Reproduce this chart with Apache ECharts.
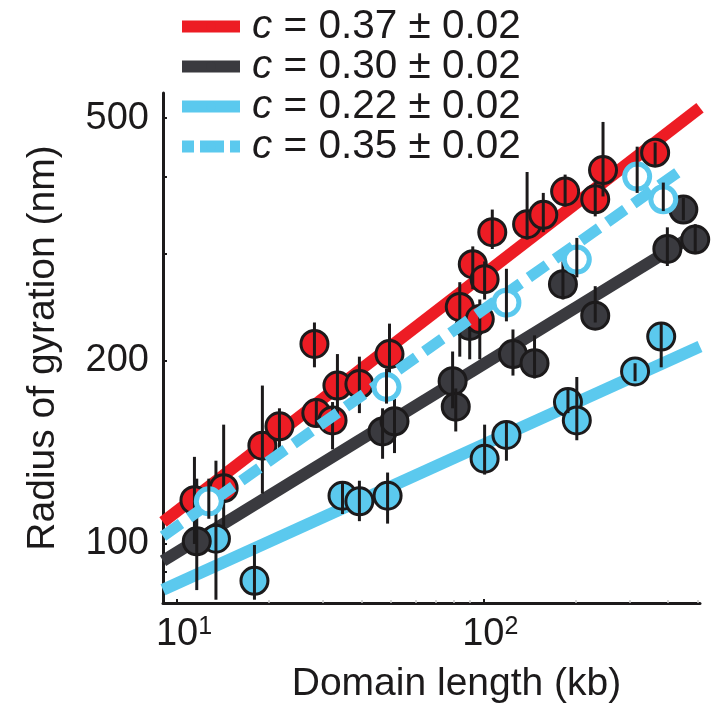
<!DOCTYPE html>
<html>
<head>
<meta charset="utf-8">
<script src="https://cdn.jsdelivr.net/npm/echarts@6/dist/echarts.min.js"></script>
<style>
  html, body { margin: 0; padding: 0; background: #fff; }
  #chart { width: 713px; height: 709px; }
</style>
</head>
<body>
<div id="chart"></div>
<script>
// Each point: [domain length (kb), radius of gyration (nm), error low, error high]
const redPoints = [
  [11.4, 118, 100, 139], [14.2, 123.5, 106, 157], [19.0, 145, 121, 182], [21.6, 156, 140, 167],
  [28.1, 213, 195, 231], [28.5, 164, 156, 173], [32.2, 159.5, 143, 171], [33.4, 182, 161, 205],
  [39.4, 183, 164, 203], [49.4, 205, 187, 230], [83.8, 245, 203, 269], [92.4, 288, 262, 308],
  [97.4, 234, 201, 252], [101, 272, 252, 291], [107, 325, 305, 354], [139, 335, 316, 408],
  [157, 347, 325, 377], [185, 379, 358, 404], [232, 368, 345, 392], [246, 411, 372, 493],
  [364, 439, 416, 456]
];
const blackPoints = [
  [11.6, 101, 84, 128], [46.9, 153, 138, 167], [51.3, 159, 141, 173], [79.4, 185, 167, 207],
  [81.3, 168, 153, 180], [90.3, 228, 201, 252], [125, 205, 189, 225], [147, 198, 187, 220],
  [182, 267, 252, 291], [232, 237, 231, 265], [399, 305, 286, 331], [450, 354, 340, 370],
  [492, 316, 299, 335]
];
const cyanPoints = [
  [13.4, 102, 81, 137], [17.9, 87, 81, 99.6], [34.7, 120, 112, 126], [39.4, 117.5, 109, 127],
  [48.7, 120, 108, 131], [101, 138, 130, 157], [119, 151, 137, 158], [189, 171, 164, 180],
  [202, 159.5, 148, 188], [313, 192, 185, 198], [381, 219, 195, 230]
];
const openPoints = [
  [12.7, 117.5, 110, 128], [48.3, 181, 170, 194], [119, 249, 232, 283],
  [202, 293, 274, 318], [318, 401, 377, 449], [387, 368, 352, 392]
];

// Power-law fits, end points [kb, nm]
const redFit = [[9, 108.7], [510, 520]];
const blackFit = [[9, 93.8], [510, 326]];
const cyanFit = [[9, 84.1], [510, 211]];
const openFit = [[9, 103], [430, 407]];

const fitLabels = ['c = 0.37 ± 0.02', 'c = 0.30 ± 0.02', 'c = 0.22 ± 0.02', 'c = 0.35 ± 0.02'];
const xTickValues = [10, 100];
const xMinorTicks = [20, 30, 40, 50, 60, 70, 80, 90, 200, 300, 400, 500];
const yTickValues = [90, 100, 200, 300, 400, 500];
const yLabelValues = [100, 200, 500];

const RED = '#ED1C24';
const DARK = '#3A3A3F';
const CYAN = '#5BC9EE';
const INK = '#1c1a1b';
const FONT = '"Liberation Sans", Arial, Helvetica, sans-serif';

function errorBars(params, api) {
  const x = api.value(0);
  const lo = api.coord([x, api.value(1)]);
  const hi = api.coord([x, api.value(2)]);
  return {
    type: 'line',
    shape: { x1: lo[0], y1: lo[1], x2: hi[0], y2: hi[1] },
    style: { stroke: INK, lineWidth: 3 }
  };
}

// stacking: solid fits at the bottom, then cyan, dark and red circles with their bars,
// the dashed fit and the open circles on top
function fitSeries(name, data, color, dashed, z) {
  return {
    name: name, type: 'line', data: data, symbol: 'none', silent: true, z: z,
    lineStyle: { color: color, width: dashed ? 11 : 12, type: dashed ? [22, 10] : 'solid', cap: 'butt' },
    itemStyle: { color: color }
  };
}
function pointSeries(data, fill, border, bw, size, z) {
  return {
    type: 'scatter', symbol: 'circle', symbolSize: size, silent: true, z: z,
    data: data.map(p => [p[0], p[1]]),
    itemStyle: { color: fill, borderColor: border, borderWidth: bw, opacity: 1 }
  };
}
function barSeries(data, z) {
  return {
    type: 'custom', silent: true, renderItem: errorBars, z: z,
    data: data.map(p => [p[0], p[2], p[3]]),
    encode: { x: 0, y: [1, 2] }
  };
}

const chart = echarts.init(document.getElementById('chart'), null, { renderer: 'canvas' });

chart.setOption({
  animation: false,
  backgroundColor: '#fff',
  grid: { left: 163, top: 93, width: 537, height: 512, containLabel: false },
  legend: {
    orient: 'vertical', left: 176, top: 6, padding: 0,
    itemWidth: 58, itemHeight: 12, itemGap: -1,
    selectedMode: false,
    data: [
      { name: fitLabels[0] },
      { name: fitLabels[1] },
      { name: fitLabels[2] },
      { name: fitLabels[3], lineStyle: { type: [24, 6], dashOffset: 12, width: 12 } }
    ],
    lineStyle: { width: 12 },
    formatter: name => '{i|c}{t|' + name.slice(1) + '}',
    textStyle: {
      color: INK, fontFamily: FONT, fontSize: 40.5, lineHeight: 36,
      rich: {
        i: { fontStyle: 'italic', fontSize: 40.5, lineHeight: 36, fontFamily: FONT, color: INK, padding: [0, 0, 0, 7] },
        t: { fontSize: 40.5, lineHeight: 36, fontFamily: FONT, color: INK }
      }
    }
  },
  xAxis: [{
    type: 'log', logBase: 10, min: 9, max: 510,
    name: 'Domain length (kb)', nameLocation: 'middle', nameGap: 62,
    nameTextStyle: { fontSize: 39, fontFamily: FONT, color: INK, padding: [0, 0, 0, 50] },
    axisLine: { show: true, lineStyle: { color: INK, width: 3 } },
    axisTick: { show: true, inside: true, length: 4, customValues: xTickValues, lineStyle: { color: INK, width: 2 } },
    axisLabel: {
      customValues: xTickValues, margin: 12,
      formatter: v => '{b|10}{s|' + Math.round(Math.log10(v)) + '}',
      rich: {
        b: { fontSize: 38, fontFamily: FONT, color: INK, lineHeight: 40, padding: [0, 0, 0, 14] },
        s: { fontSize: 25, fontFamily: FONT, color: INK, verticalAlign: 'top', lineHeight: 26 }
      }
    },
    splitLine: { show: false }
  }, {
    type: 'log', logBase: 10, min: 9, max: 510, position: 'bottom',
    axisLine: { show: false },
    axisTick: { show: true, inside: true, length: 3, customValues: xMinorTicks, lineStyle: { color: '#c8c8c8', width: 1.5 } },
    axisLabel: { show: false },
    splitLine: { show: false }
  }],
  yAxis: {
    type: 'log', logBase: 10, min: 80, max: 550,
    name: 'Radius of gyration (nm)', nameLocation: 'middle', nameRotate: 90, nameGap: 100,
    nameTextStyle: { fontSize: 39, fontFamily: FONT, color: INK },
    axisLine: { show: true, lineStyle: { color: INK, width: 3 } },
    axisTick: { show: true, inside: true, length: 4, customValues: yTickValues, lineStyle: { color: INK, width: 2 } },
    axisLabel: { customValues: yLabelValues, margin: 14, fontSize: 38, fontFamily: FONT, color: INK },
    splitLine: { show: false }
  },
  series: [
    fitSeries(fitLabels[0], redFit, RED, false, 1),
    fitSeries(fitLabels[1], blackFit, DARK, false, 1),
    fitSeries(fitLabels[2], cyanFit, CYAN, false, 1),
    pointSeries(cyanPoints, CYAN, INK, 3, 27, 2),
    barSeries(cyanPoints, 3),
    pointSeries(blackPoints, DARK, INK, 3, 27, 4),
    barSeries(blackPoints, 5),
    pointSeries(redPoints, RED, INK, 3, 27, 6),
    barSeries(redPoints, 7),
    fitSeries(fitLabels[3], openFit, CYAN, true, 8),
    pointSeries(openPoints, '#fff', CYAN, 5, 25, 9),
    barSeries(openPoints, 10)
  ]
});
</script>
</body>
</html>
